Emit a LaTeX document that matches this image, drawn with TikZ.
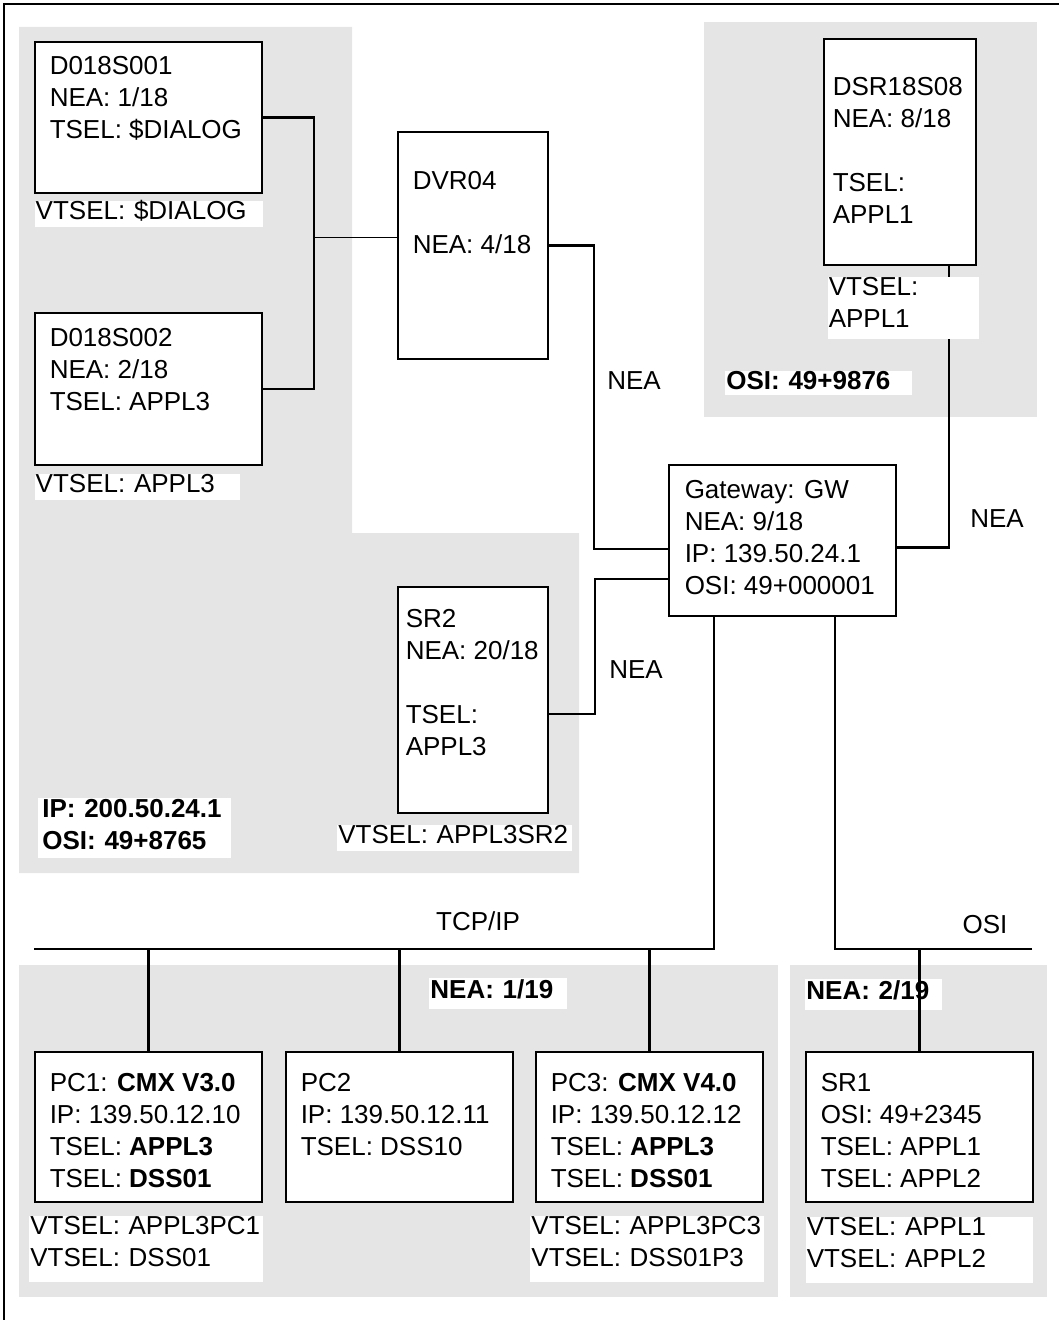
\documentclass[tikz,border=0pt]{standalone}
\usepackage{fontspec}
\setmainfont{Liberation Sans}
\usepackage{tikz}
\usetikzlibrary{positioning, calc, fit}

\begin{document}
\begin{tikzpicture}[
    x=0.5pt, y=-0.5pt,
    font=\fontsize{13}{16}\selectfont,
    box/.style={rectangle, draw=black, line width=0.65pt, fill=white, inner sep=0pt},
    txt/.style={align=left, inner sep=0pt},
    tag/.style={fill=white, align=left, inner xsep=0.5pt, inner ysep=0pt, anchor=north west, text height=9pt, text depth=4pt},
    boldtag/.style={tag, font=\fontsize{13}{16}\selectfont\bfseries},
    region/.style={fill=black!10},
    link/.style={draw=black, line width=1.1pt},
    thinlink/.style={draw=black, line width=0.5pt}
]
\useasboundingbox (0,0) rectangle (1059,1320);
\draw[line width=0.6pt] (4,1320) -- (4,4) -- (1059,4);

% Shaded areas
\fill[region] (19,27) -- (352,27) -- (352,533) -- (579,533) -- (579,873) -- (19,873) -- cycle;
\fill[region] (704,22) rectangle (1037,417);
\fill[region] (19,965) rectangle (778,1297);
\fill[region] (790,965) rectangle (1047,1297);

% Nodes
\node (d1) [box, fit={(35,42) (262,193)}] {};
\node (d1txt) [txt, below right=7.5pt and 7.5pt of d1.north west] {D018S001\\NEA: 1/18\\TSEL: \$DIALOG};
\node (d2) [box, fit={(35,313) (262,465)}] {};
\node (d2txt) [txt, below right=8pt and 7.5pt of d2.north west] {D018S002\\NEA: 2/18\\TSEL: APPL3};
\node (dvr) [box, fit={(398,132) (548,359)}] {};
\node (dvrtxt) [txt, below right=20pt and 7.5pt of dvr.north west] {DVR04\\[16pt]NEA: 4/18};
\node (dsr) [box, fit={(824,39) (976,265)}] {};
\node (dsrtxt) [txt, below right=19.5pt and 4.5pt of dsr.north west] {DSR18S08\\NEA: 8/18\\[16pt]TSEL:\\APPL1};
\node (gw) [box, fit={(669,465) (896,616)}] {};
\node (gwtxt) [txt, below right=8pt and 8pt of gw.north west] {Gateway: GW\\NEA: 9/18\\IP: 139.50.24.1\\OSI: 49+000001};
\node (sr2) [box, fit={(398,587) (548,813)}] {};
\node (sr2txt) [txt, below right=11.5pt and 4pt of sr2.north west] {SR2\\NEA: 20/18\\[16pt]TSEL:\\APPL3};
\node (pc1) [box, fit={(35,1052) (262,1202)}] {};
\node (pc1txt) [txt, below right=11pt and 7.5pt of pc1.north west] {PC1: \textbf{CMX V3.0}\\IP: 139.50.12.10\\TSEL: \textbf{APPL3}\\TSEL: \textbf{DSS01}};
\node (pc2) [box, fit={(286,1052) (513,1202)}] {};
\node (pc2txt) [txt, below right=11pt and 7.5pt of pc2.north west] {PC2\\IP: 139.50.12.11\\TSEL: DSS10};
\node (pc3) [box, fit={(536,1052) (763,1202)}] {};
\node (pc3txt) [txt, below right=11pt and 7.5pt of pc3.north west] {PC3: \textbf{CMX V4.0}\\IP: 139.50.12.12\\TSEL: \textbf{APPL3}\\TSEL: \textbf{DSS01}};
\node (sr1) [box, fit={(806,1052) (1033,1202)}] {};
\node (sr1txt) [txt, below right=11pt and 7.5pt of sr1.north west] {SR1\\OSI: 49+2345\\TSEL: APPL1\\TSEL: APPL2};

\node (nea1) at (634,381) {NEA};
\node (nea2) at (636,670) {NEA};
\node (nea3) at (997,519) {NEA};
\node (tcplabel) at (478,921) {TCP/IP};
\node (osilabel) at (985,925) {OSI};

% Paths
\coordinate (jn) at (314,238);
\draw[link] (d1.east) -| (jn) |- (d2.east);
\draw[thinlink] (jn) -- (jn -| dvr.west);
\coordinate (b1) at (594,549);
\draw[link] (dvr.east) -| (b1) -- (b1 -| gw.west);
\coordinate (b2) at (595,579);
\draw[link] ([yshift=-7pt]sr2.east) -| (b2) -- (b2 -| gw.west);
\draw[link] ([xshift=24.5pt]dsr.south) |- ([yshift=-3.5pt]gw.east);

\coordinate (tcpend) at (34,949);
\coordinate (osiend) at (1032,949);
\draw[link] (tcpend) -| ([xshift=-34.25pt]gw.south);
\draw[link] (osiend) -| ([xshift=26.25pt]gw.south);
\draw[link] (pc1.north) -- (pc1.north |- tcpend);
\draw[link] (pc2.north) -- (pc2.north |- tcpend);
\draw[link] (pc3.north) -- (pc3.north |- tcpend);

% VTSEL tags
\node (d1tag) [tag, text width=113pt, below right=3.5pt and 0pt of d1.south west] {VTSEL: \$DIALOG};
\node (d2tag) [tag, text width=101.5pt, below right=4pt and 0pt of d2.south west] {VTSEL: APPL3};
\node (sr2tag) [tag, text width=116.5pt] at (337,825) {VTSEL: APPL3SR2};
\node (dsrtag) [tag, text width=74.5pt, text depth=22pt, below right=5.5pt and 2pt of dsr.south west] {VTSEL:\\APPL1};
\node (pc1tag) [tag, text width=116pt, text depth=24pt] at (29,1216) {VTSEL: APPL3PC1\\VTSEL: DSS01};
\node (pc3tag) [tag, text width=116pt, text depth=24pt] at (530,1216) {VTSEL: APPL3PC3\\VTSEL: DSS01P3};
\node (sr1tag) [tag, text width=112.5pt, text depth=24pt, below right=7pt and 0pt of sr1.south west] {VTSEL: APPL1\\VTSEL: APPL2};

\node (ipcard) [boldtag, inner xsep=2pt, text width=92.5pt, text height=9.5pt, text depth=20.5pt] at (38,798) {IP: 200.50.24.1\\OSI: 49+8765};
\node (osicard) [boldtag, text width=92.5pt, text depth=3pt] at (725,371) {OSI: 49+9876};
\node (nea19) [boldtag, text width=68pt, text height=10pt, text depth=5.5pt] at (429,978) {NEA: 1/19};
\node (nea29) [boldtag, text width=67.5pt, text height=10pt, text depth=5.5pt] at (805,979) {NEA: 2/19};

\draw[link] (sr1.north) -- (sr1.north |- osiend);

\end{tikzpicture}
\end{document}
